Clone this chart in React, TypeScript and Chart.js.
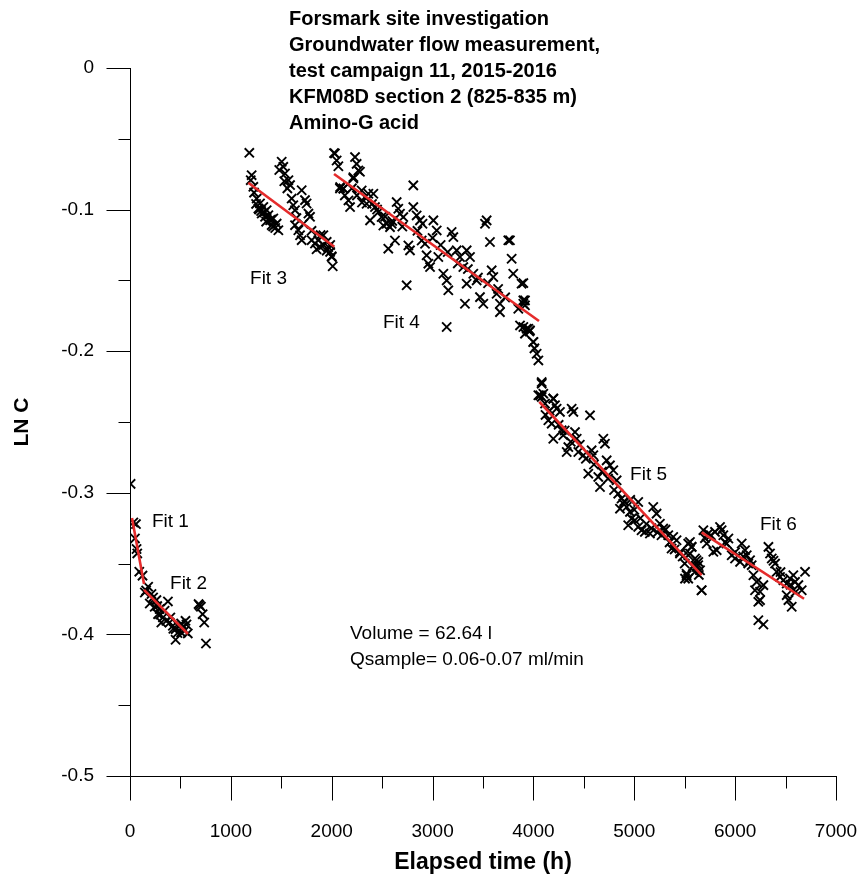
import React, { useEffect, useRef } from "react";
import { Chart, registerables } from "chart.js";

Chart.register(...registerables);

// ---------- DATA ----------
// [elapsed time (h), LN C]
const pointsFit12: [number, number][] = [
  [6, -0.2937], [33, -0.3209], [59, -0.3221], [49, -0.3322], [65, -0.3397], [72, -0.3428],
  [92, -0.3557], [124, -0.3585], [180, -0.3663], [147, -0.3704], [160, -0.369], [213, -0.3715],
  [229, -0.3739], [262, -0.3758], [196, -0.3782], [245, -0.3805], [270, -0.38], [294, -0.3821],
  [278, -0.3857], [300, -0.386], [327, -0.388], [311, -0.3916], [343, -0.3833], [360, -0.3904],
  [376, -0.3767], [393, -0.3916], [400, -0.388], [425, -0.3939], [430, -0.396], [452, -0.3963],
  [470, -0.399], [484, -0.3946], [507, -0.3923], [520, -0.395], [550, -0.3904], [560, -0.393],
  [452, -0.4038], [507, -0.3986], [540, -0.3975], [573, -0.3993],
  [680, -0.3786], [690, -0.3795], [703, -0.3805], [720, -0.3857], [736, -0.3916], [753, -0.4064],
];

const pointsFit3: [number, number][] = [
  [1183, -0.0599], [1206, -0.0757], [1197, -0.0792], [1223, -0.0839], [1256, -0.0922], [1250, -0.096],
  [1289, -0.0957], [1273, -0.0992], [1322, -0.0981], [1306, -0.1028], [1300, -0.101], [1355, -0.1004],
  [1339, -0.1051], [1372, -0.104], [1350, -0.1085], [1389, -0.1075], [1421, -0.1063], [1420, -0.112],
  [1454, -0.1099], [1405, -0.111], [1471, -0.1146], [1504, -0.0662], [1480, -0.072], [1520, -0.0698],
  [1537, -0.0745], [1530, -0.08], [1571, -0.0792], [1587, -0.0827], [1603, -0.0922], [1619, -0.0969],
  [1636, -0.1004], [1702, -0.0863], [1735, -0.0933], [1751, -0.0957], [1769, -0.1028], [1785, -0.1051],
  [1636, -0.111], [1669, -0.1146], [1686, -0.1181], [1702, -0.1216], [1801, -0.1216], [1834, -0.124],
  [1867, -0.1216], [1884, -0.1264], [1890, -0.118], [1917, -0.1181], [1950, -0.1228], [1950, -0.129],
  [1966, -0.1264], [1984, -0.1299], [1985, -0.125], [2000, -0.1334], [2000, -0.133], [2010, -0.14],
  [1230, -0.088], [1280, -0.1], [1330, -0.102], [1400, -0.107], [1440, -0.113], [1560, -0.085],
  [1650, -0.106], [1720, -0.11], [1800, -0.115], [1850, -0.128], [1920, -0.125],
];

const pointsFit4: [number, number][] = [
  [2023, -0.0601], [2032, -0.0604], [2049, -0.0653], [2066, -0.0694], [2083, -0.0841], [2082, -0.0851],
  [2115, -0.0851], [2116, -0.0853], [2166, -0.0935], [2182, -0.0982], [2231, -0.0629], [2247, -0.0677],
  [2264, -0.0724], [2215, -0.0771], [2214, -0.078], [2280, -0.0733], [2297, -0.0865], [2330, -0.0912],
  [2363, -0.0888], [2413, -0.0888], [2346, -0.0959], [2380, -0.1076], [2429, -0.0982], [2462, -0.1018],
  [2495, -0.1053], [2512, -0.1112], [2545, -0.11], [2578, -0.1124], [2595, -0.11], [2561, -0.1276],
  [2627, -0.1218], [2644, -0.0947], [2660, -0.0994], [2677, -0.1029], [2710, -0.1053], [2760, -0.1253],
  [2776, -0.1288], [2809, -0.0829], [2809, -0.0982], [2842, -0.1041], [2875, -0.1076], [2892, -0.1218],
  [2925, -0.1241], [2941, -0.1323], [2958, -0.1382], [2975, -0.1406], [3008, -0.1076], [3041, -0.1147],
  [3057, -0.1335], [2743, -0.1535], [3107, -0.1453], [3140, -0.15], [3156, -0.157], [3189, -0.1158],
  [3206, -0.1194], [3239, -0.1288], [3272, -0.1335], [3305, -0.1406], [3338, -0.1288], [3371, -0.1335],
  [3321, -0.1665], [3338, -0.1523], [3404, -0.1453], [3437, -0.15], [3470, -0.1618], [3503, -0.1665],
  [3520, -0.11], [3536, -0.1076], [3569, -0.1229], [3586, -0.1429], [3602, -0.1476], [3635, -0.1594],
  [3668, -0.1665], [3668, -0.1724], [3751, -0.1217], [3767, -0.1217], [3784, -0.1347], [3800, -0.1453],
  [3883, -0.1523], [3900, -0.1665], [3916, -0.1641], [3867, -0.1818], [3933, -0.1841], [3966, -0.1853],
  [3999, -0.1935], [3140, -0.1829],
  [2130, -0.09], [2200, -0.085], [2250, -0.09], [2300, -0.095], [2400, -0.096], [2450, -0.1],
  [2530, -0.105], [2600, -0.108], [2700, -0.112], [2850, -0.115], [2900, -0.11], [3000, -0.12],
  [3080, -0.125], [3150, -0.13], [3250, -0.138], [3350, -0.142], [3450, -0.148], [3550, -0.152],
  [3650, -0.156], [3720, -0.162], [3850, -0.17],
];

const pointsDrop: [number, number][] = [
  [3900, -0.1519], [3900, -0.1641], [3916, -0.1676], [3900, -0.1829], [3949, -0.1841], [3916, -0.1876],
  [3960, -0.186], [3999, -0.1935], [4010, -0.198], [4032, -0.2018], [4049, -0.2065], [4082, -0.2218],
  [4066, -0.2312], [4098, -0.23], [4197, -0.2335], [4214, -0.2382], [4379, -0.2406],
];

const pointsFit5: [number, number][] = [
  [4082, -0.2229], [4049, -0.2311], [4082, -0.2323], [4197, -0.2335], [4115, -0.237], [4230, -0.2406],
  [4263, -0.2429], [4396, -0.2429], [4561, -0.2453], [4148, -0.2488], [4181, -0.2512], [4280, -0.2559],
  [4296, -0.2594], [4197, -0.2618], [4412, -0.2571], [4429, -0.2618], [4346, -0.2677], [4330, -0.2712],
  [4445, -0.2712], [4495, -0.2735], [4577, -0.27], [4594, -0.2735], [4693, -0.2618], [4709, -0.2653],
  [4544, -0.2865], [4643, -0.2888], [4660, -0.2959], [4726, -0.2771], [4759, -0.2806], [4792, -0.2841],
  [4825, -0.2912], [4841, -0.3006], [4874, -0.3041], [4891, -0.3076], [4858, -0.3112], [4924, -0.31],
  [4957, -0.3135], [4973, -0.3182], [4940, -0.3229], [5006, -0.3194], [5039, -0.3241], [5072, -0.3265],
  [5105, -0.3276], [5155, -0.3288], [5039, -0.3065], [5188, -0.31], [5221, -0.3147], [5254, -0.3218],
  [5287, -0.3253], [5337, -0.33], [5386, -0.3312], [5419, -0.3335], [5370, -0.3394], [5452, -0.3418],
  [5535, -0.3359], [5568, -0.3382], [5551, -0.3429], [5617, -0.3476], [5634, -0.3512], [5518, -0.3571],
  [5535, -0.3606], [5667, -0.3688],
  [4120, -0.245], [4160, -0.242], [4250, -0.252], [4310, -0.256], [4370, -0.264], [4460, -0.266],
  [4520, -0.276], [4600, -0.28], [4680, -0.285], [4740, -0.29], [4800, -0.298], [4900, -0.306],
  [4960, -0.305], [5000, -0.312], [5060, -0.318], [5120, -0.322], [5170, -0.325], [5230, -0.328],
  [5270, -0.33], [5310, -0.326], [5350, -0.335], [5400, -0.34], [5480, -0.345], [5500, -0.35],
  [5580, -0.352], [5600, -0.356], [5640, -0.358],
];

const pointsFit6: [number, number][] = [
  [5453, -0.3429], [5552, -0.3347], [5569, -0.3382], [5536, -0.3441], [5602, -0.3464], [5635, -0.3488],
  [5618, -0.3523], [5519, -0.3582], [5503, -0.3606], [5652, -0.3547], [5668, -0.3688], [5685, -0.3264],
  [5734, -0.3288], [5718, -0.3358], [5784, -0.3417], [5817, -0.3405], [5800, -0.3276], [5850, -0.3241],
  [5866, -0.3264], [5883, -0.33], [5933, -0.3323], [5916, -0.3358], [5966, -0.3441], [5999, -0.3464],
  [6049, -0.3488], [6065, -0.3358], [6098, -0.3405], [6115, -0.3441], [6148, -0.3476], [6164, -0.3511],
  [6181, -0.3582], [6214, -0.3629], [6197, -0.3688], [6247, -0.3699], [6280, -0.3652], [6230, -0.377],
  [6247, -0.3758], [6230, -0.39], [6280, -0.393], [6330, -0.3382], [6346, -0.3429], [6363, -0.3464],
  [6396, -0.35], [6412, -0.3558], [6445, -0.3594], [6478, -0.3617], [6511, -0.3641], [6544, -0.3605],
  [6577, -0.3582], [6594, -0.3629], [6627, -0.3652], [6660, -0.3688], [6511, -0.3723], [6528, -0.3758],
  [6561, -0.3805], [6693, -0.3558],
  [5700, -0.332], [5760, -0.33], [5900, -0.335], [6000, -0.342], [6080, -0.345], [6130, -0.35],
  [6380, -0.348], [6450, -0.356], [6550, -0.365], [6600, -0.37],
];

// Linear fit segments
const fitNames = ["Fit 1", "Fit 2", "Fit 3", "Fit 4", "Fit 5", "Fit 6"];
const fitStartTime = [20, 139, 1173, 2023, 4058, 5668];
const fitStartLnC = [-0.3178, -0.3686, -0.081, -0.0749, -0.2357, -0.3279];
const fitEndTime = [139, 575, 2026, 4055, 5668, 6683];
const fitEndLnC = [-0.3644, -0.3997, -0.1262, -0.1787, -0.3581, -0.3748];

// Axis ticks
const xMajorTicks = [0, 1000, 2000, 3000, 4000, 5000, 6000, 7000];
const xMinorTicks = [500, 1500, 2500, 3500, 4500, 5500, 6500];
const yMajorTicks = [0, -0.1, -0.2, -0.3, -0.4, -0.5];
const yMinorTicks = [-0.05, -0.15, -0.25, -0.35, -0.45];

// Texts
const titleLines = [
  "Forsmark site investigation",
  "Groundwater flow measurement,",
  "test campaign 11, 2015-2016",
  "KFM08D section 2 (825-835 m)",
  "Amino-G acid",
];
const fitLabelTime = [218, 397, 1190, 2508, 4958, 6246];
const fitLabelLnC = [-0.3206, -0.3644, -0.149, -0.18, -0.2874, -0.3227];
const noteLines = ["Volume = 62.64 l", "Qsample= 0.06-0.07 ml/min"];
const noteTime = 2181;
const noteLnC = [-0.3997, -0.4181];

// ---------- LAYOUT / STYLE ----------
const W = 859;
const H = 884;
const FONT = "'Liberation Sans', Arial, Helvetica, sans-serif";
const PLOT_LEFT = 130;
const PLOT_RIGHT = 836;
const PLOT_TOP = 68;
const PLOT_BOTTOM = 776;
const MAJOR_LEN = 24;
const MINOR_LEN = 12;
const TITLE_X_PX = 289;
const TITLE_FIRST_Y_PX = 19;
const TITLE_STEP_PX = 26;

const decorPlugin = {
  id: "decor",
  afterDraw(chart: any) {
    const { ctx, scales } = chart;
    const xs = scales.x;
    const ys = scales.y;
    const left = Math.round(xs.getPixelForValue(0)) + 0.5;
    const bottom = Math.round(ys.getPixelForValue(-0.5)) + 0.5;
    ctx.save();
    ctx.strokeStyle = "#000";
    ctx.lineWidth = 1;
    ctx.beginPath();
    ctx.moveTo(left, Math.round(ys.getPixelForValue(0)));
    ctx.lineTo(left, bottom);
    ctx.moveTo(left, bottom);
    ctx.lineTo(Math.round(xs.getPixelForValue(7000)) + 1, bottom);
    yMajorTicks.forEach((v) => {
      const p = Math.round(ys.getPixelForValue(v)) + 0.5;
      ctx.moveTo(left - MAJOR_LEN, p);
      ctx.lineTo(left, p);
    });
    yMinorTicks.forEach((v) => {
      const p = Math.round(ys.getPixelForValue(v)) + 0.5;
      ctx.moveTo(left - MINOR_LEN, p);
      ctx.lineTo(left, p);
    });
    xMajorTicks.forEach((v) => {
      const p = Math.round(xs.getPixelForValue(v)) + 0.5;
      ctx.moveTo(p, bottom);
      ctx.lineTo(p, bottom + MAJOR_LEN);
    });
    xMinorTicks.forEach((v) => {
      const p = Math.round(xs.getPixelForValue(v)) + 0.5;
      ctx.moveTo(p, bottom);
      ctx.lineTo(p, bottom + MINOR_LEN);
    });
    ctx.stroke();

    ctx.fillStyle = "#000";
    ctx.textAlign = "left";
    ctx.textBaseline = "middle";
    ctx.font = `bold 20px ${FONT}`;
    titleLines.forEach((t, i) => {
      ctx.fillText(t, TITLE_X_PX, TITLE_FIRST_Y_PX + i * TITLE_STEP_PX);
    });

    ctx.font = `19px ${FONT}`;
    fitNames.forEach((t, i) => {
      ctx.fillText(t, xs.getPixelForValue(fitLabelTime[i]), ys.getPixelForValue(fitLabelLnC[i]));
    });
    noteLines.forEach((t, i) => {
      ctx.fillText(t, xs.getPixelForValue(noteTime), ys.getPixelForValue(noteLnC[i]));
    });
    ctx.restore();
  },
};

export default function App() {
  const canvasRef = useRef<HTMLCanvasElement | null>(null);

  useEffect(() => {
    const canvas = canvasRef.current;
    if (!canvas) return;
    const toXY = (arr: [number, number][]) => arr.map(([x, y]) => ({ x, y }));
    const allPoints = [
      ...toXY(pointsFit12),
      ...toXY(pointsFit3),
      ...toXY(pointsFit4),
      ...toXY(pointsDrop),
      ...toXY(pointsFit5),
      ...toXY(pointsFit6),
    ];
    const fitDatasets = fitNames.map((name, i) => ({
      type: "line" as const,
      label: name,
      data: [
        { x: fitStartTime[i], y: fitStartLnC[i] },
        { x: fitEndTime[i], y: fitEndLnC[i] },
      ],
      borderColor: "#e52b2b",
      borderWidth: 2.6,
      pointRadius: 0,
      showLine: true,
      fill: false,
      tension: 0,
      order: 0,
    }));

    const chart = new Chart(canvas, {
      type: "scatter",
      data: {
        datasets: [
          {
            label: "Amino-G acid",
            data: allPoints,
            pointStyle: "crossRot",
            pointRadius: 6.5,
            pointBorderWidth: 1.9,
            borderColor: "#000",
            backgroundColor: "#000",
            order: 1,
          } as any,
          ...fitDatasets,
        ],
      },
      options: {
        responsive: false,
        animation: false,
        devicePixelRatio: 1,
        layout: {
          padding: { left: 0, top: PLOT_TOP, right: W - PLOT_RIGHT, bottom: 0 },
        },
        plugins: {
          legend: { display: false },
          tooltip: { enabled: false },
          title: { display: false },
        },
        scales: {
          x: {
            type: "linear",
            min: 0,
            max: 7000,
            afterFit: (s: any) => {
              s.height = H - PLOT_BOTTOM;
              s.paddingLeft = 0;
              s.paddingRight = 0;
            },
            grid: { display: false, drawTicks: true, tickLength: MAJOR_LEN },
            border: { display: false },
            ticks: {
              stepSize: 1000,
              color: "#000",
              font: { family: FONT, size: 19 },
              padding: 20,
              maxRotation: 0,
              callback: (v: any) => String(v),
            },
            title: {
              display: true,
              text: "Elapsed time (h)",
              color: "#000",
              font: { family: FONT, size: 23, weight: "bold" },
              padding: { top: 0, bottom: 8 },
            },
          },
          y: {
            type: "linear",
            min: -0.5,
            max: 0,
            afterFit: (s: any) => {
              s.width = PLOT_LEFT;
              s.paddingTop = 0;
              s.paddingBottom = 0;
            },
            grid: { display: false, drawTicks: true, tickLength: MAJOR_LEN },
            border: { display: false },
            ticks: {
              stepSize: 0.1,
              color: "#000",
              font: { family: FONT, size: 19 },
              padding: 12,
              callback: (v: any) => (Math.abs(Number(v)) < 1e-9 ? "0" : Number(v).toFixed(1)),
            },
            title: {
              display: true,
              text: "LN C",
              color: "#000",
              font: { family: FONT, size: 21, weight: "bold" },
              padding: { top: 10, bottom: 0 },
            },
          },
        },
      },
      plugins: [decorPlugin],
    } as any);

    return () => {
      chart.destroy();
    };
  }, []);

  return (
    <div style={{ position: "absolute", left: 0, top: 0, width: W, height: H, background: "#fff" }}>
      <canvas ref={canvasRef} width={W} height={H} style={{ width: W, height: H, display: "block" }} />
    </div>
  );
}
